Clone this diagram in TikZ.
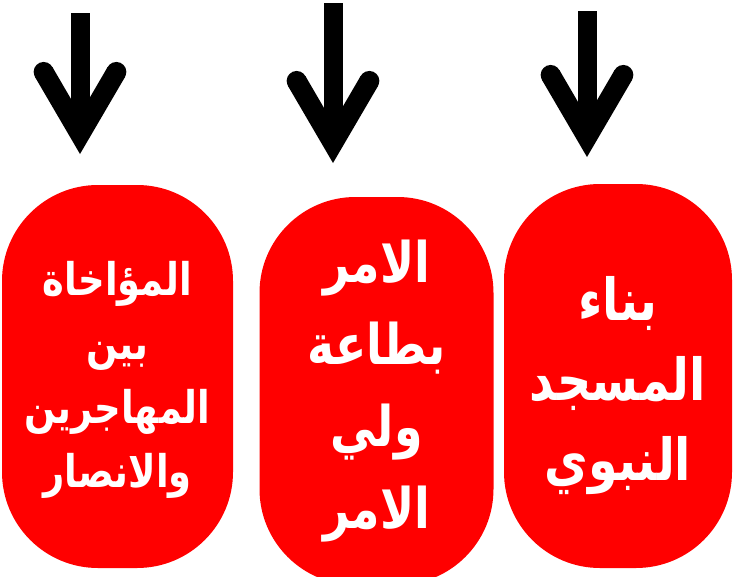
\documentclass[tikz,border=0pt]{standalone}
\usepackage{fontspec}
\newfontfamily\arabicfont[Script=Arabic,FakeStretch=0.82]{DejaVu Sans}
\TeXXeTstate=1
\definecolor{boxred}{HTML}{FF0000}
\begin{document}
\begin{tikzpicture}[x=1pt,y=-1pt,
  stadium/.style={fill=boxred, draw=none, rounded corners=96pt, inner sep=0pt},
  boxtext/.style={text=white, align=center, inner sep=0pt},
  pics/downarrow/.style={code={
     \fill (-9.5,-#1) rectangle (9.5,-35);
     \fill (-45,-77) -- (0,0) -- (45,-77) -- (27.7,-87.1) -- (0,-39.6) -- (-27.7,-87.1) -- cycle;
     \fill (-36.35,-82.05) circle (10);
     \fill (36.35,-82.05) circle (10);
  }}]
\useasboundingbox (0,0) rectangle (733,576);
\clip (0,0) rectangle (733,576);

\node[stadium, minimum width=231pt, minimum height=383pt] (muakhat) at (117.5,376.5) {};
\node[stadium, minimum width=234pt, minimum height=388pt] (taah) at (376.5,391) {};
\node[stadium, minimum width=228pt, minimum height=384pt] (masjid) at (618,376) {};

\node[boxtext, font=\arabicfont\bfseries\fontsize{45}{64}\selectfont] (muakhattext)
  at ([yshift=-3pt]muakhat.center)
  {\beginR المؤاخاة\endR\\ \beginR بين\endR\\ \beginR المهاجرين\endR\\ \beginR والانصار\endR};
\node[boxtext, font=\arabicfont\bfseries\fontsize{56}{82}\selectfont] (taahtext)
  at (taah.center)
  {\beginR الامر\endR\\ \beginR بطاعة\endR\\ \beginR ولي\endR\\ \beginR الامر\endR};
\node[boxtext, font=\arabicfont\bfseries\fontsize{58}{80}\selectfont] (masjidtext)
  at ([yshift=-10pt]masjid.center)
  {\beginR بناء\endR\\ \beginR المسجد\endR\\ \beginR النبوي\endR};

\pic (a1) at (80,154) {downarrow=141};
\pic (a2) at (333,163) {downarrow=160};
\pic (a3) at (587,157) {downarrow=146};
\end{tikzpicture}
\end{document}
